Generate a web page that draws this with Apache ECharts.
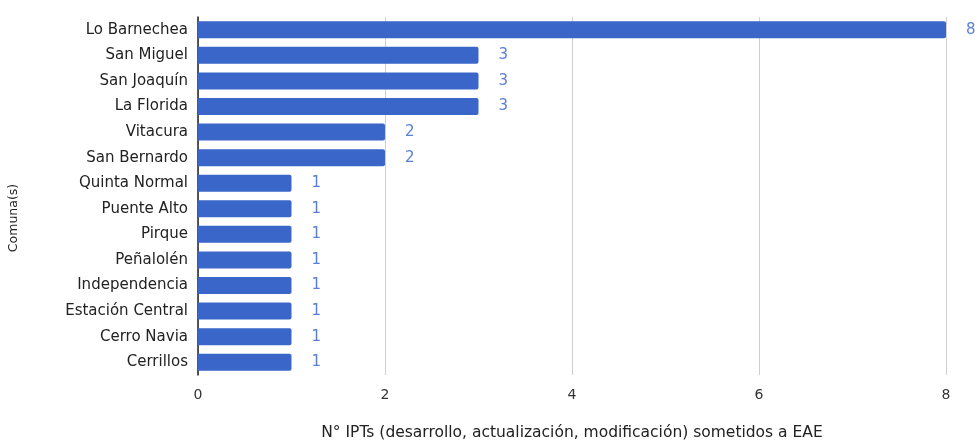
<!DOCTYPE html>
<html>
<head>
<meta charset="utf-8">
<script src="https://cdn.jsdelivr.net/npm/echarts@6/dist/echarts.min.js"></script>
<style>html,body{margin:0;padding:0;background:#fff;}#c{width:975px;height:441px;}</style>
</head>
<body>
<div id="c"></div>
<script>
const categories = ["Lo Barnechea","San Miguel","San Joaquín","La Florida","Vitacura","San Bernardo","Quinta Normal","Puente Alto","Pirque","Peñalolén","Independencia","Estación Central","Cerro Navia","Cerrillos"];
const values = [8,3,3,3,2,2,1,1,1,1,1,1,1,1];
const xTicks = [0,2,4,6,8];
const xTitle = "N° IPTs (desarrollo, actualización, modificación) sometidos a EAE";
const yTitle = "Comuna(s)";

const chart = echarts.init(document.getElementById('c'));
chart.setOption({
  animation:false,
  textStyle:{fontFamily:"DejaVu Sans"},
  grid:{left:198,right:29,top:17,bottom:66,containLabel:false,outerBoundsMode:'none'},
  xAxis:{
    type:'value',min:0,max:8,interval:2,
    axisLine:{show:false},axisTick:{show:false},
    splitLine:{show:true,lineStyle:{color:'#cfcfcf',width:1}},
    axisLabel:{color:'#333',fontSize:14,margin:13,formatter:v=>xTicks.includes(v)?String(v):''},
    name:xTitle,nameLocation:'middle',nameGap:50,
    nameTextStyle:{color:'#222',fontSize:15.5}
  },
  yAxis:{
    type:'category',data:categories.slice().reverse(),inverse:false,
    axisLine:{show:true,lineStyle:{color:'#222',width:1.5}},
    axisTick:{show:false},
    axisLabel:{color:'#222',fontSize:15,margin:10},
    name:yTitle,nameLocation:'middle',nameGap:178,
    nameTextStyle:{color:'#222',fontSize:12.5,padding:[0,0,0,-44]}
  },
  series:[{
    type:'bar',data:values.slice().reverse(),barWidth:17,
    itemStyle:{color:'#3a66c9',borderRadius:[0,2,2,0]},
    label:{show:true,position:'right',distance:20,color:'#5a7fd6',fontSize:15}
  }]
});
</script>
</body>
</html>
